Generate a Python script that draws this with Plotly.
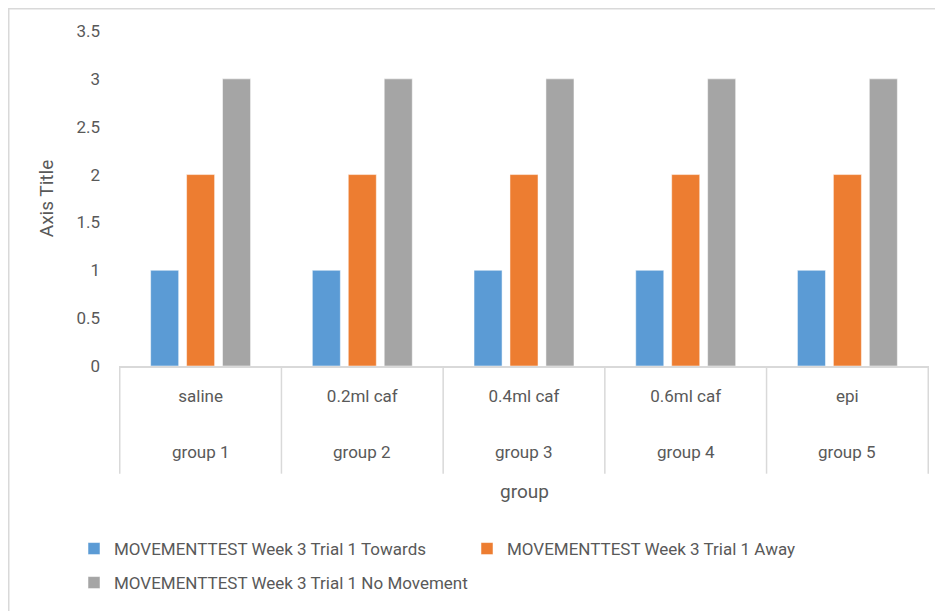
import plotly.graph_objects as go

groups = ["group 1", "group 2", "group 3", "group 4", "group 5"]
treatments = ["saline", "0.2ml caf", "0.4ml caf", "0.6ml caf", "epi"]

towards = [1, 1, 1, 1, 1]
away = [2, 2, 2, 2, 2]
no_movement = [3, 3, 3, 3, 3]

y_ticks = [0, 0.5, 1, 1.5, 2, 2.5, 3, 3.5]

TXT = "#595959"
GRID = "#D9D9D9"
FONT = "Roboto, Arial, sans-serif"

# page offsets from the 8px body margin; plot area on the page: x 119..929, y 31..367
PW, PH = 810, 336


def py(px):
    return (367 - px) / PH


def pxx(px):
    return (px - 119) / PW


series = [
    ("MOVEMENTTEST Week 3 Trial 1 Towards", towards, "#5B9BD5", "legend"),
    ("MOVEMENTTEST Week 3 Trial 1 Away", away, "#ED7D31", "legend2"),
    ("MOVEMENTTEST Week 3 Trial 1 No Movement", no_movement, "#A5A5A5", "legend3"),
]

fig = go.Figure()
for name, vals, color, leg in series:
    fig.add_trace(go.Bar(
        x=treatments, y=vals, name=name, legend=leg, showlegend=True,
        marker=dict(color=color, line=dict(color="rgba(255,255,255,0.5)", width=1)),
    ))

leg_common = dict(orientation="h", font=dict(size=17, color=TXT, family=FONT),
                  bgcolor="rgba(0,0,0,0)", xanchor="left", yanchor="middle")

# category dividers and group labels (second level of the category axis)
shapes = []
for i in range(len(treatments) + 1):
    shapes.append(dict(type="line", xref="x", yref="paper", x0=i - 0.5, x1=i - 0.5,
                       y0=0, y1=py(475), line=dict(color=GRID, width=1.5)))
# chart border (top and left)
shapes.append(dict(type="line", xref="paper", yref="paper", x0=pxx(7), x1=pxx(951),
                   y0=py(8.5), y1=py(8.5), line=dict(color=GRID, width=2)))
shapes.append(dict(type="line", xref="paper", yref="paper", x0=pxx(8.5), x1=pxx(8.5),
                   y0=py(8.5), y1=py(620), line=dict(color=GRID, width=2)))

annotations = [
    dict(x=g_i, y=py(453), xref="x", yref="paper", text=g, showarrow=False,
         font=dict(size=17, color=TXT), xanchor="center", yanchor="middle")
    for g_i, g in enumerate(groups)
]
annotations.append(dict(x=0.5, y=py(493), xref="paper", yref="paper", text="group",
                        showarrow=False, font=dict(size=19, color=TXT),
                        xanchor="center", yanchor="middle"))

fig.update_layout(
    width=935, height=603,
    margin=dict(l=111, r=14, t=23, b=244),
    paper_bgcolor="white", plot_bgcolor="white",
    font=dict(family=FONT, size=17, color=TXT),
    showlegend=True,
    barmode="group", bargap=0.333, bargroupgap=0.22,
    legend=dict(x=pxx(74), y=py(549), **leg_common),
    legend2=dict(x=pxx(467), y=py(549), **leg_common),
    legend3=dict(x=pxx(74), y=py(583), **leg_common),
    xaxis=dict(
        showline=True, linecolor=GRID, linewidth=2, automargin=False,
        showgrid=False, ticks="", ticklabelstandoff=14,
        tickfont=dict(size=17, color=TXT),
    ),
    yaxis=dict(
        range=[0, 3.5], tickvals=y_ticks, ticktext=[f"{v:g}" for v in y_ticks],
        showgrid=False, zeroline=False, showline=False, ticks="", automargin=False,
        ticklabelstandoff=18, tickfont=dict(size=17, color=TXT),
        title=dict(text="Axis Title", font=dict(size=19, color=TXT), standoff=17),
    ),
    shapes=shapes,
    annotations=annotations,
)

fig.write_html("out.html")
